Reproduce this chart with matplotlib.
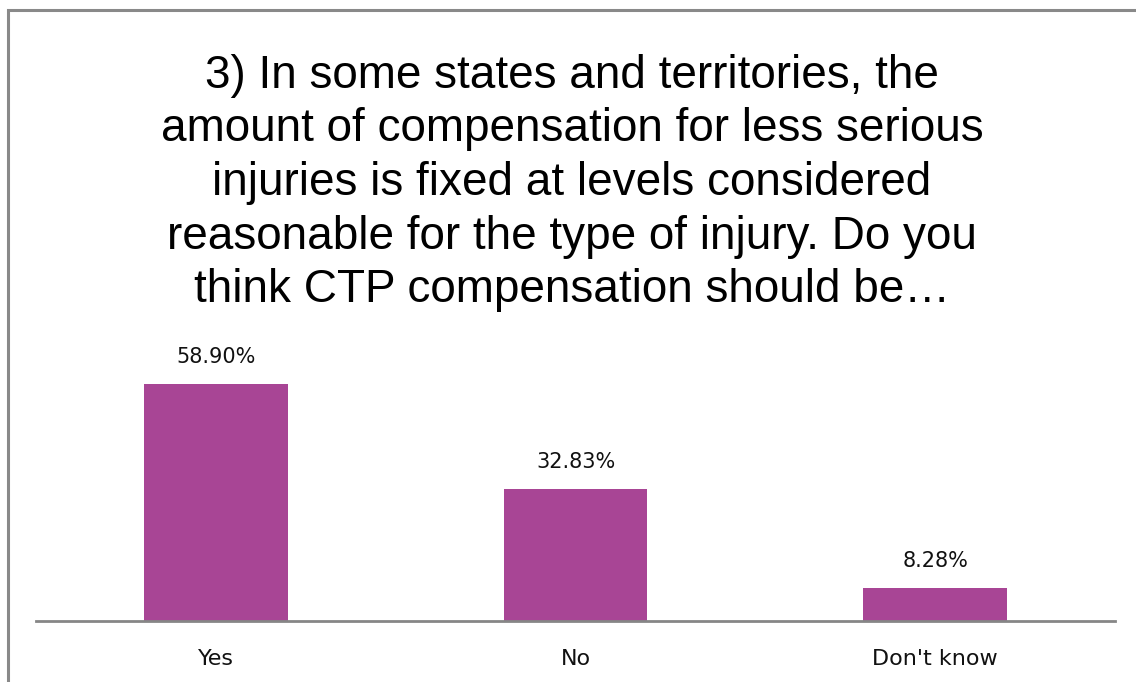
import matplotlib
matplotlib.use('Agg')
import matplotlib.pyplot as plt
from matplotlib.patches import Rectangle

categories = ['Yes', 'No', "Don't know"]
shares = [58.90, 32.83, 8.28]
value_labels = ['58.90%', '32.83%', '8.28%']
title_text = ('3) In some states and territories, the\n'
              'amount of compensation for less serious\n'
              'injuries is fixed at levels considered\n'
              'reasonable for the type of injury. Do you\n'
              'think CTP compensation should be\u2026')

bar_color = '#A84595'
W, H = 1136, 682

fig = plt.figure(figsize=(W / 100, H / 100), dpi=100)

# outer chart border (runs off the right and bottom edges)
fig.patches.append(Rectangle((8 / W, -0.05), 1.2, (H - 10) / H + 0.05,
                             transform=fig.transFigure, fill=False,
                             edgecolor='#898989', linewidth=2.2))

fig.text(572 / W, (H - 183) / H, title_text, ha='center', va='center',
         fontsize=33, family='Liberation Sans', linespacing=1.28)

ax = fig.add_axes([36 / W, 61 / H, (1115 - 36) / W, 322 / H])
x = range(len(categories))
ax.bar(x, shares, width=0.4, color=bar_color)
for xi, v, lab in zip(x, shares, value_labels):
    ax.annotate(lab, (xi, v), xytext=(0, 12), textcoords='offset points',
                ha='center', va='bottom', fontsize=15, family='DejaVu Sans',
                color='#111111')

ax.set_xlim(-0.5, 2.5)
ax.set_ylim(0, 80)
ax.set_xticks(list(x))
ax.set_xticklabels(categories, fontsize=16, family='DejaVu Sans', color='#111111')
ax.tick_params(axis='x', length=0, pad=20)
ax.set_yticks([])
for side in ['top', 'right', 'left']:
    ax.spines[side].set_visible(False)
ax.spines['bottom'].set_color('#868686')
ax.spines['bottom'].set_linewidth(2)
ax.patch.set_visible(False)

fig.savefig('out.png', dpi=100)
